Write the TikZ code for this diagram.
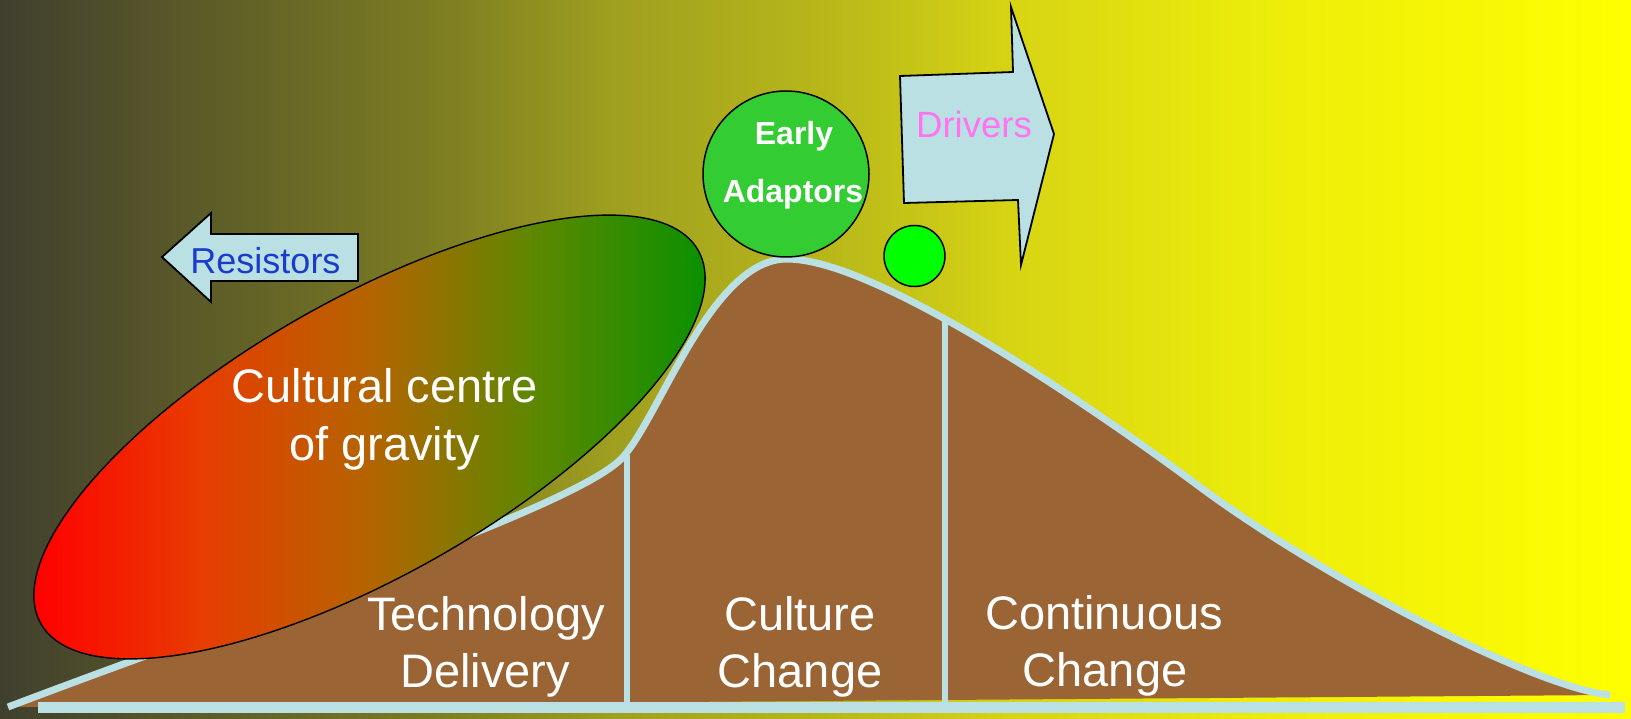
\documentclass[tikz,border=0pt]{standalone}
\usepackage{fontspec}
\setmainfont{Liberation Sans}
\definecolor{bg0}{RGB}{64,63,46}
\definecolor{bg1}{RGB}{125,125,34}
\definecolor{bg2}{RGB}{160,160,32}
\definecolor{bg3}{RGB}{184,184,26}
\definecolor{bg4}{RGB}{215,212,20}
\definecolor{bg5}{RGB}{236,236,10}
\definecolor{bg6}{RGB}{255,255,0}
\definecolor{el0}{RGB}{255,0,0}
\definecolor{el1}{RGB}{232,60,0}
\definecolor{el2}{RGB}{180,100,0}
\definecolor{el3}{RGB}{95,135,0}
\definecolor{el4}{RGB}{10,145,0}
\definecolor{brownc}{RGB}{154,100,52}
\definecolor{lightb}{RGB}{186,224,228}
\definecolor{earlyg}{RGB}{51,204,51}
\definecolor{resblue}{RGB}{25,60,205}
\definecolor{drvpink}{RGB}{255,115,240}
\pgfdeclarehorizontalshading{bgshade}{100bp}{color(0bp)=(bg0); color(25bp)=(bg0); color(38.5bp)=(bg1); color(44bp)=(bg2); color(50.5bp)=(bg3); color(56bp)=(bg4); color(63.5bp)=(bg5); color(75bp)=(bg6); color(100bp)=(bg6)}
\pgfdeclarehorizontalshading{ellshade}{100bp}{color(0bp)=(el0); color(25bp)=(el0); color(37.35bp)=(el1); color(50bp)=(el2); color(62bp)=(el3); color(75bp)=(el4); color(100bp)=(el4)}
\begin{document}
\begin{tikzpicture}[x=1pt,y=-1pt,
  biglbl/.style={font=\fontsize{47pt}{57pt}\selectfont, text=white, anchor=base, inner sep=0pt},
  earlylbl/.style={font=\fontsize{32pt}{38pt}\selectfont\bfseries, text=white, anchor=base, inner sep=0pt},
  blockarrow/.style={fill=lightb, draw=black, line width=1.8pt, line join=miter},
  bubble/.style={circle, draw=black, line width=1.5pt, inner sep=0pt},
  bluestroke/.style={draw=lightb}]
\useasboundingbox (0,0) rectangle (1631,719);
\shade[shading=bgshade] (0,0) rectangle (1631,719);
% curve with brown fill
\draw[bluestroke, line width=7pt, preaction={fill=brownc}]
  (8,707) .. controls (250,615) and (580,506) .. (623,457)
  .. controls (661,414) and (712,259) .. (787,259)
  .. controls (880,259) and (1110,420) .. (1200,487)
  .. controls (1330,583) and (1540,689) .. (1610,695);
% dividers
\coordinate (d1t) at (627,455);
\coordinate (d1b) at (627,704);
\coordinate (d2t) at (945,320);
\coordinate (d2b) at (945,704);
\draw[bluestroke, line width=6.5pt] (d1t) -- (d1b);
\draw[bluestroke, line width=6.5pt] (d2t) -- (d2b);
% baseline
\coordinate (bl) at (38,707.5);
\coordinate (br) at (1625,707.5);
\draw[bluestroke, line width=11pt] (bl) -- (br);
% ellipse
\shade[shading=ellshade, draw=black, line width=1.4pt] plot[domain=0:360, samples=181, variable=\t] ({369.5+378*cos(\t)*cos(29.6)-138*sin(\t)*sin(29.6)},{437-378*cos(\t)*sin(29.6)-138*sin(\t)*cos(29.6)}) -- cycle;
\node[biglbl] (cg1) at (384.5,402) {Cultural centre};
\node[biglbl] (cg2) at (384.5,460) {of gravity};
% phase labels
\node[biglbl] (td1) at (486,630) {Technology};
\node[biglbl] (td2) at (485,687) {Delivery};
\node[biglbl] (cc1) at (800,630) {Culture};
\node[biglbl] (cc2) at (800,687) {Change};
\node[biglbl] (co1) at (1104,629) {Continuous};
\node[biglbl] (co2) at (1105,686) {Change};
% resistors arrow
\draw[blockarrow] (162,257) -- (211,213) -- (211,234) -- (358,234) -- (358,281) -- (211,281) -- (211,302) -- cycle;
\node[font=\fontsize{36pt}{43pt}\selectfont, text=resblue, anchor=base, inner sep=0pt] (res) at (265.5,274) {Resistors};
% drivers arrow
\draw[blockarrow] (1054,134) -- (1011,7) -- (1013,72) -- (900,76) -- (904,203) -- (1018,200) -- (1021,265) -- cycle;
\node[font=\fontsize{36.5pt}{44pt}\selectfont, text=drvpink, anchor=base, inner sep=0pt] (drv) at (974,138) {Drivers};
% circles
\node[bubble, fill=earlyg, minimum size=166pt] (early) at (786,174) {};
\node[earlylbl] (ea1) at (794,145) {Early};
\node[earlylbl] (ea2) at (793,203) {Adaptors};
\node[bubble, fill=green, minimum size=61pt] (small) at (914.5,256) {};
\end{tikzpicture}
\end{document}
